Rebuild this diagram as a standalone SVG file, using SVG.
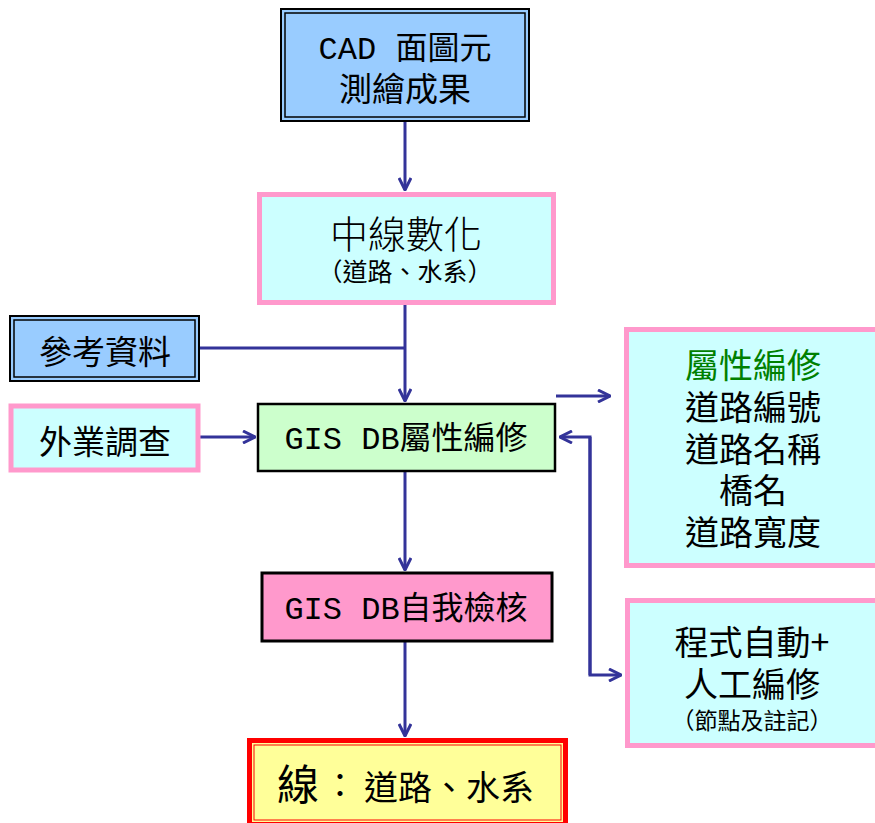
<svg xmlns="http://www.w3.org/2000/svg" width="875" height="823" viewBox="0 0 875 823">
<style>
text{font-family:"Noto Sans CJK TC","Noto Sans CJK SC",sans-serif;fill:#000;text-anchor:middle}
.lat{font-family:"Liberation Mono","Noto Sans CJK TC",monospace}
.conn{stroke:#333399;stroke-width:3;fill:none}
.pink{fill:#ccffff;stroke:#ff99cc;stroke-width:5}
</style>
<defs>
<marker id="ah" viewBox="0 0 14 14" refX="13" refY="7" markerWidth="14" markerHeight="14" markerUnits="userSpaceOnUse" orient="auto">
<path d="M1,1 L13,7 L1,13" fill="none" stroke="#333399" stroke-width="3"/>
</marker>
</defs>
<g id="connectors">
<line class="conn" x1="405" y1="122" x2="405" y2="190" marker-end="url(#ah)"/>
<line class="conn" x1="405" y1="305" x2="405" y2="401" marker-end="url(#ah)"/>
<line class="conn" x1="200" y1="348" x2="405" y2="348"/>
<line class="conn" x1="200" y1="437" x2="255" y2="437" marker-end="url(#ah)"/>
<line class="conn" x1="556" y1="396" x2="610" y2="396" marker-end="url(#ah)"/>
<polyline class="conn" points="590,675 590,437 560,437" marker-end="url(#ah)"/>
<polyline class="conn" points="590,437 590,675 621,675" marker-end="url(#ah)"/>
<line class="conn" x1="405" y1="472" x2="405" y2="570" marker-end="url(#ah)"/>
<line class="conn" x1="405" y1="642" x2="405" y2="736" marker-end="url(#ah)"/>
</g>
<g id="cad">
<rect x="281" y="9" width="248" height="112" fill="#99ccff" stroke="#000" stroke-width="2"/>
<rect x="285" y="13" width="240" height="104" fill="none" stroke="#000" stroke-width="1.5"/>
<text class="lat" x="405" y="59" font-size="32">CAD 面圖元</text>
<text x="405" y="101" font-size="33">測繪成果</text>
</g>
<g id="digitize">
<rect class="pink" x="259.5" y="194.5" width="294" height="108"/>
<text x="406" y="248" font-size="38" font-weight="300">中線數化</text>
<text x="405" y="281" font-size="25">（道路、水系）</text>
</g>
<g id="ref">
<rect x="10" y="316" width="189" height="65" fill="#99ccff" stroke="#000" stroke-width="2"/>
<rect x="14" y="320" width="181" height="57" fill="none" stroke="#000" stroke-width="1.5"/>
<text x="105" y="364" font-size="33">參考資料</text>
</g>
<g id="field">
<rect class="pink" x="11" y="406" width="187" height="64" stroke-width="4.5"/>
<text x="105" y="454" font-size="33">外業調查</text>
</g>
<g id="gisedit">
<rect x="258" y="404" width="297" height="67" fill="#ccffcc" stroke="#000" stroke-width="2.5"/>
<text class="lat" x="406" y="449" font-size="32">GIS DB屬性編修</text>
</g>
<g id="gischeck">
<rect x="262" y="573" width="290" height="68" fill="#ff99cc" stroke="#000" stroke-width="3"/>
<text class="lat" x="406" y="619" font-size="32">GIS DB自我檢核</text>
</g>
<g id="attrs">
<rect class="pink" x="626.5" y="329.5" width="260" height="236"/>
<text x="753" y="378" font-size="34" style="fill:#008000">屬性編修</text>
<text x="753" y="420" font-size="34">道路編號</text>
<text x="753" y="462" font-size="34">道路名稱</text>
<text x="753" y="503" font-size="34">橋名</text>
<text x="753" y="545" font-size="34">道路寬度</text>
</g>
<g id="auto">
<rect class="pink" x="627.5" y="600.5" width="260" height="145"/>
<text x="752" y="655" font-size="34">程式自動+</text>
<text x="752" y="697" font-size="34">人工編修</text>
<text x="752" y="729" font-size="23">（節點及註記）</text>
</g>
<g id="result">
<rect x="249.5" y="740.5" width="316" height="84" fill="#ffff99" stroke="#ff0000" stroke-width="5"/>
<rect x="254" y="745" width="307" height="75" fill="none" stroke="#ff0000" stroke-width="1"/>
<text x="298" y="800" font-size="42">線</text>
<text x="340" y="797" font-size="33">：</text>
<text x="449" y="800" font-size="34">道路、水系</text>
</g>
</svg>
